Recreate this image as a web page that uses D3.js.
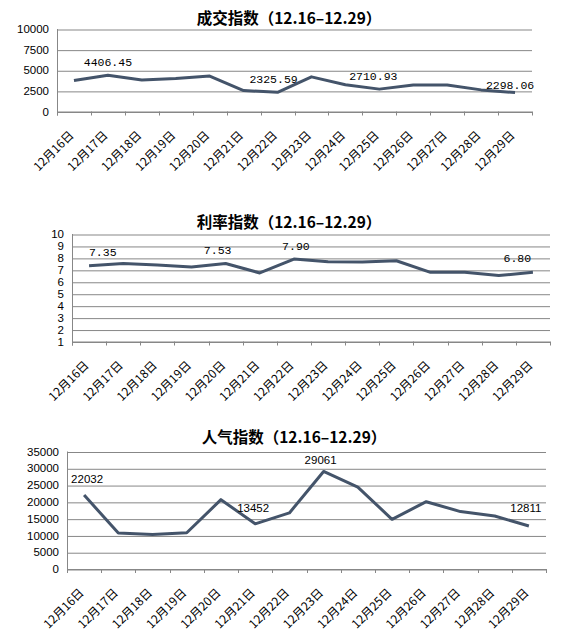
<!DOCTYPE html>
<html>
<head>
<meta charset="utf-8">
<script src="https://cdn.jsdelivr.net/npm/d3@7"></script>
<style>
    body { margin: 0; background: #fff; }
</style>
</head>
<body>
<svg id="chart" width="571" height="640"></svg>
<script>
// categories and series
const days = ["12月16日", "12月17日", "12月18日", "12月19日", "12月20日", "12月21日", "12月22日",
              "12月23日", "12月24日", "12月25日", "12月26日", "12月27日", "12月28日", "12月29日"];
const dealIndex = [3750, 4406.45, 3830, 4010, 4290, 2540, 2325.59, 4200, 3250, 2710.93, 3220, 3220, 2620, 2298.06];
const rateIndex = [7.35, 7.52, 7.40, 7.24, 7.53, 6.74, 7.90, 7.68, 7.65, 7.76, 6.79, 6.79, 6.52, 6.80];
const hotIndex = [22032, 10700, 10250, 10800, 20650, 13452, 16700, 29061, 24400, 14800, 20050, 17100, 15800, 12811];

// y tick labels
const dealTicks = [0, 2500, 5000, 7500, 10000];
const rateTicks = [1, 2, 3, 4, 5, 6, 7, 8, 9, 10];
const hotTicks = [0, 5000, 10000, 15000, 20000, 25000, 30000, 35000];

// which points carry a value label
const dealLabelled = [1, 6, 9, 13];
const rateLabelled = [0, 4, 6, 13];
const hotLabelled = [0, 5, 7, 13];

const titles = ["成交指数（12.16–12.29）", "利率指数（12.16–12.29）", "人气指数（12.16–12.29）"];

const svg = d3.select("#chart");
const lineColor = "#44546a";
const gridColor = "#878787";

function drawChart(opt) {
    const g = svg.append("g");

    const x = d3.scaleBand()
        .domain(days)
        .range([opt.left, opt.right])
        .padding(0);
    const y = d3.scaleLinear()
        .domain(d3.extent(opt.ticks))
        .range([opt.bottom, opt.top]);
    const cx = d => x(d) + x.bandwidth() / 2;

    // title
    g.append("text")
        .text(opt.title)
        .attr("x", opt.titleX)
        .attr("y", opt.titleY)
        .attr("text-anchor", "middle")
        .style("font-family", "'Noto Sans CJK SC', sans-serif")
        .style("font-weight", "bold")
        .style("font-size", "15.5px")
        .style("fill", "#000");

    // gridlines + y labels
    const yAxis = g.append("g")
        .attr("transform", `translate(${opt.left},0)`)
        .call(d3.axisLeft(y).tickValues(opt.ticks).tickSize(-(opt.right - opt.left)).tickPadding(opt.padY).tickFormat(d3.format("d")));
    yAxis.select(".domain").remove();
    yAxis.selectAll("line")
        .attr("stroke", gridColor)
        .attr("transform", "translate(0,0.5)");
    yAxis.selectAll("text")
        .style("font-family", "'Liberation Sans', Arial, sans-serif")
        .style("font-size", "11.5px")
        .style("fill", "#000");

    // left axis line
    g.append("line")
        .attr("x1", opt.left + 0.5).attr("x2", opt.left + 0.5)
        .attr("y1", opt.top).attr("y2", opt.bottom + 4)
        .attr("stroke", gridColor);

    // bottom axis with ticks between the categories
    g.append("line")
        .attr("x1", opt.left).attr("x2", opt.right)
        .attr("y1", opt.bottom + 0.5).attr("y2", opt.bottom + 0.5)
        .attr("stroke", gridColor);
    const edges = days.map(d => x(d)).concat([opt.right]);
    g.selectAll(".edge")
        .data(edges)
        .enter()
        .append("line")
            .attr("x1", d => Math.round(d) + 0.5)
            .attr("x2", d => Math.round(d) + 0.5)
            .attr("y1", opt.bottom)
            .attr("y2", opt.bottom + 4)
            .attr("stroke", gridColor);

    // category labels, rotated
    g.selectAll(".cat")
        .data(days)
        .enter()
        .append("text")
            .text(d => d)
            .attr("transform", d => `translate(${cx(d) + 0.5},${opt.bottom + 24.5}) rotate(-45)`)
            .attr("text-anchor", "end")
            .style("font-family", "'Noto Sans CJK SC', sans-serif")
            .style("font-size", "12px")
            .style("fill", "#000");

    // the line
    const line = d3.line()
        .x((d, i) => cx(days[i]))
        .y(d => y(d));
    g.append("path")
        .attr("d", line(opt.values))
        .attr("fill", "none")
        .attr("stroke", lineColor)
        .attr("stroke-width", 3)
        .attr("stroke-linejoin", "round");

    // value labels
    g.selectAll(".val")
        .data(opt.labelled)
        .enter()
        .append("text")
            .text(i => opt.fmt(opt.values[i]))
            .attr("x", i => cx(days[i]) + opt.nudge[i][0])
            .attr("y", i => y(opt.values[i]) + opt.nudge[i][1])
            .attr("text-anchor", "middle")
            .style("font-family", opt.labelFont)
            .style("font-size", "11.5px")
            .style("fill", "#000");
}

drawChart({
    title: titles[0], titleX: 289, titleY: 24,
    left: 57, right: 532, top: 29, bottom: 111.5, padY: 8,
    ticks: dealTicks, values: dealIndex, labelled: dealLabelled,
    fmt: d3.format(".2f"), labelFont: "'Liberation Mono', monospace",
    nudge: {1: [0, -9.5], 6: [-4, -9], 9: [-6, -9], 13: [-5, -3.5]}
});

drawChart({
    title: titles[1], titleX: 289, titleY: 228,
    left: 72, right: 550, top: 234, bottom: 341.5, padY: 8,
    ticks: rateTicks, values: rateIndex, labelled: rateLabelled,
    fmt: d3.format(".2f"), labelFont: "'Liberation Mono', monospace",
    nudge: {0: [13.7, -9.7], 4: [-8, -10], 6: [2, -9], 13: [-15.6, -10]}
});

drawChart({
    title: titles[2], titleX: 294, titleY: 443,
    left: 67, right: 546, top: 451.5, bottom: 569, padY: 8,
    ticks: hotTicks, values: hotIndex, labelled: hotLabelled,
    fmt: d3.format("d"), labelFont: "'Liberation Sans', Arial, sans-serif",
    nudge: {0: [3, -12], 5: [-2, -12], 7: [-3, -7], 13: [-3, -14]}
});
</script>
</body>
</html>
